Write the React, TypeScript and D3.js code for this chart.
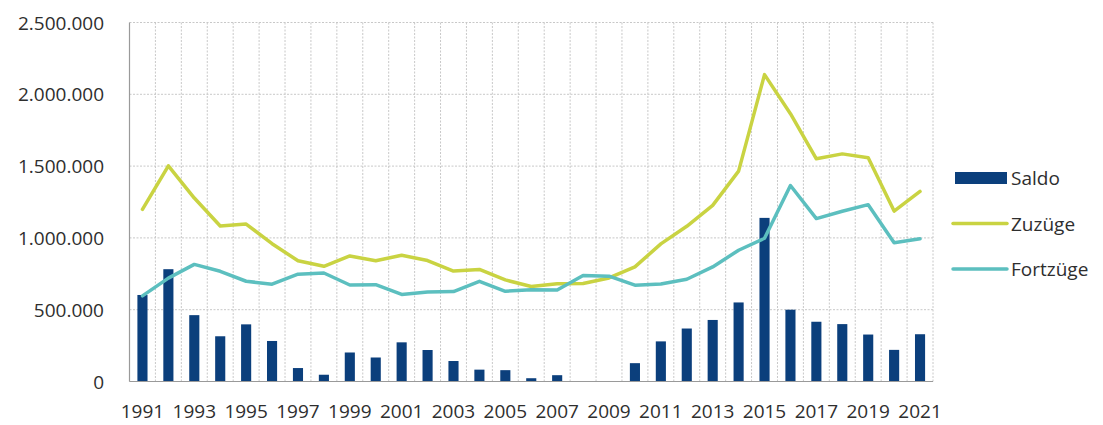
import * as d3 from 'd3';

const years = d3.range(1991, 2022).map(String);

// Zuzüge / Fortzüge / Saldo, Deutschland 1991-2021
const zuzuege = [
  1198978, 1502198, 1277408, 1082553, 1096048, 959691, 840633, 802456, 874023, 841158,
  879217, 842543, 768975, 780175, 707352, 661855, 680766, 682146, 721014, 798282,
  958299, 1080936, 1226493, 1464724, 2136954, 1865122, 1550721, 1585112, 1558612, 1186702,
  1323466,
];
const fortzuege = [
  596455, 720127, 815312, 767555, 698113, 677494, 746969, 755358, 672048, 674038,
  606494, 623255, 626330, 697632, 628399, 639064, 636854, 737889, 733796, 670605,
  678969, 711991, 797886, 914241, 997552, 1365178, 1134641, 1185432, 1231552, 966451,
  994303,
];
const saldo = [
  602523, 782071, 462096, 314998, 397935, 282197, 93664, 47098, 201975, 167120,
  272723, 219288, 142645, 82543, 78953, 22791, 43912, -55743, -12782, 127677,
  279330, 368945, 428607, 550483, 1139402, 499944, 416080, 399680, 327060, 220251,
  329163,
];
const yTicks = [0, 500000, 1000000, 1500000, 2000000, 2500000];
const legendItems = [
  { name: 'Saldo', type: 'bar' },
  { name: 'Zuzüge', type: 'line' },
  { name: 'Fortzüge', type: 'line' },
];

const colors: Record<string, string> = {
  Saldo: '#0b3f7c',
  Zuzüge: '#c9d342',
  Fortzüge: '#5cbfbf',
};

const W = 1103;
const H = 425;
const margin = { left: 129.5, right: 170, top: 22.5, bottom: 43.5 };
const font = '"Open Sans", sans-serif';

export default function App() {
  const x = d3
    .scaleBand<string>()
    .domain(years)
    .range([margin.left, W - margin.right])
    .paddingInner(0)
    .paddingOuter(0);
  const y = d3.scaleLinear().domain([0, 2500000]).range([H - margin.bottom, margin.top]);
  const fmt = (v: number) => d3.format(',')(v).replace(/,/g, '.');

  const bw = x.bandwidth() * 0.39;
  const cx = (i: number) => (x(years[i]) ?? 0) + x.bandwidth() / 2;
  const line = d3
    .line<number>()
    .x((_, i) => cx(i))
    .y((d) => y(d));

  const plotLeft = margin.left;
  const plotRight = W - margin.right;

  return (
    <svg
      width={W}
      height={H}
      style={{ position: 'absolute', left: 0, top: 0, background: '#fff' }}
      fontFamily={font}
    >
      <defs>
        <clipPath id="plot">
          <rect x={plotLeft} y={margin.top} width={plotRight - plotLeft} height={y(0) - margin.top} />
        </clipPath>
      </defs>

      {/* horizontal grid */}
      {yTicks.map((t) => (
        <line
          key={'h' + t}
          x1={plotLeft}
          x2={plotRight}
          y1={y(t)}
          y2={y(t)}
          stroke="#c8c8c8"
          strokeDasharray="2,1.5"
        />
      ))}
      {/* vertical grid at category boundaries */}
      {years.slice(1).map((yr) => (
        <line
          key={'v' + yr}
          x1={x(yr)}
          x2={x(yr)}
          y1={margin.top}
          y2={y(0)}
          stroke="#c8c8c8"
          strokeDasharray="2,1.5"
        />
      ))}
      <line x1={plotRight} x2={plotRight} y1={margin.top} y2={y(0)} stroke="#c8c8c8" strokeDasharray="2,1.5" />

      {/* bars */}
      <g clipPath="url(#plot)">
        {saldo.map((v, i) => (
          <rect
            key={'b' + i}
            x={cx(i) - bw / 2}
            width={bw}
            y={y(Math.max(0, v))}
            height={Math.abs(y(v) - y(0))}
            fill={colors.Saldo}
          />
        ))}
      </g>

      {/* lines */}
      <path d={line(zuzuege) ?? ''} fill="none" stroke={colors['Zuzüge']} strokeWidth={3.5} strokeLinejoin="round" strokeLinecap="round" />
      <path d={line(fortzuege) ?? ''} fill="none" stroke={colors['Fortzüge']} strokeWidth={3.5} strokeLinejoin="round" strokeLinecap="round" />

      {/* axes */}
      <line x1={plotLeft} x2={plotLeft} y1={margin.top} y2={y(0)} stroke="#9a9a9a" strokeWidth={1.2} />
      <line x1={plotLeft} x2={plotRight} y1={y(0)} y2={y(0)} stroke="#9a9a9a" strokeWidth={1.2} />

      {/* y labels */}
      {yTicks.map((t) => (
        <text
          key={'yl' + t}
          x={104}
          y={y(t)}
          textAnchor="end"
          dominantBaseline="central"
          fontSize={19}
          fill="#2e2e2e"
        >
          {fmt(t)}
        </text>
      ))}

      {/* x labels */}
      {years
        .filter((_, i) => i % 2 === 0)
        .map((yr) => (
          <text
            key={'xl' + yr}
            x={(x(yr) ?? 0) + x.bandwidth() / 2}
            y={418}
            textAnchor="middle"
            fontSize={19}
            fill="#2e2e2e"
          >
            {yr}
          </text>
        ))}

      {/* legend */}
      {legendItems.map((item, i) => {
        const ly = 178 + i * 45.5;
        return (
          <g key={item.name}>
            {item.type === 'bar' ? (
              <rect x={955} y={ly - 6} width={52} height={12} fill={colors[item.name]} />
            ) : (
              <line x1={953} x2={1007} y1={ly} y2={ly} stroke={colors[item.name]} strokeWidth={3.5} strokeLinecap="round" />
            )}
            <text x={1011} y={ly} dominantBaseline="central" fontSize={19} fill="#2e2e2e">
              {item.name}
            </text>
          </g>
        );
      })}
    </svg>
  );
}
